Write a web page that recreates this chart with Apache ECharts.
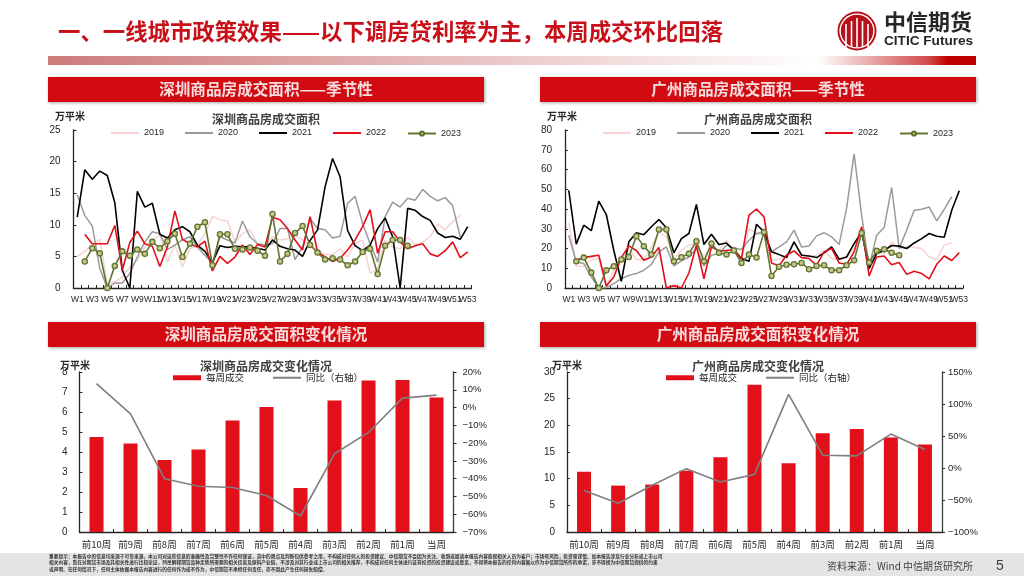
<!DOCTYPE html>
<html><head><meta charset="utf-8">
<style>html,body{margin:0;padding:0;background:#fff}#c{width:1024px;height:576px}</style>
<script src="https://cdn.jsdelivr.net/npm/echarts@6/dist/echarts.min.js"></script>
</head><body><div id="c"></div>
<script>
const weeks = Array.from({length:53},(_,i)=>'W'+(i+1));
const yearNames = ['2019','2020','2021','2022','2023'];
const _ = null;
const sz2019 = [5,5.8,6.8,7.7,0.7,1,1.7,3.3,4.4,6.5,7.6,8.4,4.2,6.8,3.3,6.2,6.8,8.6,11.3,10.8,10.6,7.3,8.6,9.2,7,6.8,8.1,7.6,7.8,8.4,7.6,6.8,6,5.3,5.3,6.2,5,7,7.6,2.3,3.1,7.6,6.5,6.2,8.1,6.8,7.3,8.1,10.1,9.2,10.5,11.5,_];
const sz2020 = [14.7,11.5,9.8,3.1,0,0.8,0.8,2.3,4.9,7.3,8.9,8.6,6.1,6.8,7.6,8.1,6.5,5.2,3.9,8.1,7.6,7.1,10.6,8.1,7,6.8,7,9.4,9.4,4.5,6.5,11,9.4,9.2,7.9,8.2,13.4,14.5,10.2,7,4.1,11.3,13.6,12.8,14.2,13.9,15.6,14.5,13.8,14.3,13,8.1,_];
const sz2021 = [11.2,18.7,17.2,18.5,17.8,13.5,2.8,0,15.3,12.8,13.4,8.5,7.9,9.2,9.7,8.9,6.8,5.8,4,6.7,6.4,6.6,6.5,6.5,6.3,6,7.6,6.6,6.2,6,5,7.5,9.2,16,20.5,17.6,9.1,6.7,5.9,6.8,9.4,11.1,8.1,0,12.6,12.3,11.3,10.7,8.7,8,8.2,7.7,9.7];
const sz2022 = [_,8.5,7,7,7,9.9,2.8,7.2,9,7,6.6,3.4,6.5,12.2,7.7,7,6.5,7.4,2.7,5,3.9,4.9,6.8,5.3,6.9,6.5,11.2,10.8,9.4,7.6,6,11.3,5.7,4.9,4.2,4.7,6,7.6,9.7,12.4,5.5,8.9,8.9,7.3,6.2,6.7,7,5.4,5,5.9,7.3,4.8,5.7];
const sz2023 = [_,4.2,6.3,5.5,0,3.5,5.8,5.1,6.1,5.4,7.3,6.3,7.4,8.6,4.9,7,9.7,10.4,3.6,8.5,8.5,6.2,6.1,6.4,5.9,5.1,11.7,4.2,5.4,8.7,9.8,6.8,5.6,4.5,4.7,4.5,3.6,4.2,5.7,6.2,2.2,6.7,7.6,7.6,6.7];
const gz2019 = [33,11,11,14.4,14.9,0.5,9,14,20,14.4,14.4,20.8,28.4,25.9,14.9,19,21.7,22.5,15.7,20.8,19,24.2,19,14,30,27.6,26.7,14,14.6,16.6,22.5,17.4,15.7,16.6,19,14.9,14.4,15.7,20,29.3,12.4,18.3,17.4,23.4,20,20.8,20.5,20,15.7,14.4,21.7,22.8,_];
const gz2020 = [26.7,13.2,12.4,5.6,0,0.2,2.2,4.7,6.4,7.3,9,12,18.3,20.8,11.2,13.7,15.7,20,11.2,16.6,17.4,21.7,20.3,19.5,24.2,27.6,28.4,18.3,20.8,23.4,29.3,20.8,21.3,26.4,28,25.9,22,40.3,67.9,36.9,10.7,26.7,30.6,51,20,29.3,39.4,39.9,41,34,39.8,46.2,_];
const gz2021 = [49.5,22.2,31.8,29,44,37.2,19,3.4,23.4,28,27,31,34.7,30.5,17.8,25,27.6,42.3,22,27.2,22,22.8,19,14.9,13.5,32.3,28.4,18.3,16.9,15.4,23.4,16.6,16.2,15.4,17.8,20.8,14.6,15.7,22.5,28.4,9.8,17.4,19,21.5,21.2,20,22.8,25,27.6,26.2,25.7,39.4,49.2];
const gz2022 = [_,14,15.4,16,16.6,1,5.6,15.4,21.3,19,14,15.7,20.5,0,1.2,0,7.6,21.7,4.7,20.8,18.8,19,19.5,14.9,36.9,40,36,12.7,11.2,16.6,18.8,15.4,14.9,11.5,18.3,20,12.7,12,18.3,31,6.1,15.7,16.2,11.8,12.9,6.9,8.5,7.3,4.6,12,16.2,13.9,17.9];
const gz2023 = [_,13.5,15.4,7.8,0,9,11,14.4,15.7,26.2,21.2,17,29.6,29.6,13.5,15.6,17.4,23.7,13.5,22.5,17.8,16.9,19,12.7,17,15.4,28.3,6.1,10.8,11.8,12,12.7,9.5,11.2,11.5,9,9,11.5,14,27.9,12.9,18.8,19.6,17.9,16.6];
const recentWeeks = ['前10周','前9周','前8周','前7周','前6周','前5周','前4周','前3周','前2周','前1周','当周'];
const szWeekly = [4.75,4.42,3.6,4.12,5.57,6.25,2.2,6.57,7.57,7.6,6.72];
const szYoy = [13.5,-3.5,-40,-44.3,-45,-49.5,-61,-26,-14,5.3,7];
const gzWeekly = [11.3,8.7,8.9,11.5,14,27.6,12.9,18.5,19.3,17.7,16.4];
const gzYoy = [-35,-55,-27,-1,-22,-10,115,20,19,53,29];
const pageTitle = '一、一线城市政策效果——以下调房贷利率为主，本周成交环比回落';
const disclaimer = [
'重要提示：本报告中的信息均来源于可靠来源，本公司对这些信息的准确性及完整性不作任何保证，其中的观点及判断仅供参考之用，不构成对任何人的投资建议。中信期货不会因为关注、收到或阅读本报告内容而视相关人员为客户；市场有风险，投资需谨慎。如本报告涉及行业分析或上市公司',
'相关内容，旨在对期货市场及其相关性进行比较论证，列举解释期货品种走势所需要的相关信息及原料产业链，不涉及对其行业或上市公司的相关推荐，不构成对任何主体进行证券投资的投资建议或意见，不得将本报告的任何内容据以作为中信期货所作的承诺，亦不得视为中信期货提供的约束',
'或声明。在任何情况下，任何主体依据本报告内容进行的任何作为或不作为，中信期货不承担任何责任，亦不因此产生任何损失赔偿。'];

const FONT = '"Noto Sans CJK SC","Liberation Sans",sans-serif';
const LATIN = '"Liberation Sans","Noto Sans CJK SC",sans-serif';
const RED = '#d20a11', DK='#262626', TXT='#262626';
const yearColors = ['#f7d3d3','#9a9a9a','#000000','#e20f1a','#5f7530'];

const grids = [
 {left:73.5,width:398,top:130,height:158},
 {left:565,width:398,top:130,height:158},
 {left:79.5,width:374,top:372,height:160},
 {left:567,width:375,top:372,height:160}];

const series=[], xAxis=[], yAxis=[], legend=[], title=[];
const lineAxis = {lineStyle:{color:DK,width:1.3}};
function seasonal(i,data,max,step,lx){
  xAxis.push({type:'category',gridIndex:i,data:weeks,boundaryGap:true,position:'bottom',axisLine:lineAxis,
    axisTick:{show:true,inside:true,length:3,alignWithLabel:false,interval:0,lineStyle:{color:DK}},
    axisLabel:{interval:idx=>idx%2===0,fontSize:8.5,color:TXT,margin:7,fontFamily:LATIN,hideOverlap:false}});
  const xa=xAxis.length-1;
  // second label-only axis on the same scale so the last tick label W53 survives ECharts' overlap trimming
  xAxis.push({type:'category',gridIndex:i,data:weeks,boundaryGap:true,position:'bottom',
    axisLine:{show:false,onZero:false},axisTick:{show:false},
    axisLabel:{interval:idx=>idx===52,fontSize:8.5,color:TXT,margin:7,fontFamily:LATIN,showMinLabel:false,showMaxLabel:true}});
  yAxis.push({type:'value',gridIndex:i,min:0,max,interval:step,splitLine:{show:false},axisLine:{show:true,...lineAxis},
    axisTick:{show:true,inside:true,length:3,lineStyle:{color:DK}},
    axisLabel:{fontSize:10,color:TXT,margin:13,fontFamily:LATIN}});
  const ya=yAxis.length-1;
  data.forEach((d,k)=>{
    const is23=k===4;
    series.push({type:'line',name:yearNames[k],xAxisIndex:xa,yAxisIndex:ya,data:d,
      connectNulls:false,smooth:false,z:k+2,
      symbol:is23?'circle':'none',symbolSize:5.2,showSymbol:is23,showAllSymbol:is23,
      lineStyle:{color:yearColors[k],width:k<2?1.5:1.6},
      itemStyle:{color:is23?'#c9c68a':yearColors[k],borderColor:is23?yearColors[4]:yearColors[k],borderWidth:is23?1.3:0}});
  });
  yearNames.forEach((n,k)=>{
    const is23=k===4;
    legend.push({show:true,data:[is23?{name:n}:{name:n,icon:'rect'}],left:lx+k*74,top:is23?124:123.5,itemWidth:28,itemHeight:is23?5.2:2,itemGap:3,
      textStyle:{fontSize:9,color:TXT,fontFamily:LATIN},selectedMode:false,padding:[5,5,5,5]});
  });
}
function recent(i,bars,yoy,lmax,lstep,rmin,rmax,rstep,lx,rm){
  xAxis.push({type:'category',gridIndex:i,data:recentWeeks,axisLine:lineAxis,
    axisTick:{show:true,inside:true,length:3,lineStyle:{color:DK}},
    axisLabel:{interval:0,fontSize:9.5,color:TXT,margin:8,fontFamily:FONT}});
  const xa=xAxis.length-1;
  yAxis.push({type:'value',gridIndex:i,min:0,max:lmax,interval:lstep,splitLine:{show:false},axisLine:{show:true,...lineAxis},
    axisTick:{show:true,inside:true,length:3,lineStyle:{color:DK}},
    axisLabel:{fontSize:10,color:TXT,margin:12,fontFamily:LATIN}});
  const la=yAxis.length-1;
  yAxis.push({type:'value',gridIndex:i,position:'right',min:rmin,max:rmax,interval:rstep,splitLine:{show:false},axisLine:{show:true,lineStyle:{color:'#404040',width:1.3}},
    axisTick:{show:true,inside:false,length:3,lineStyle:{color:DK}},
    axisLabel:{fontSize:9.5,color:TXT,margin:rm,fontFamily:LATIN,formatter:v=>String(v).replace('-','−')+'%'}});
  const ra=yAxis.length-1;
  series.push({type:'bar',name:'每周成交',xAxisIndex:xa,yAxisIndex:la,data:bars,barWidth:14,itemStyle:{color:'#e2101a'},z:2});
  series.push({type:'line',name:'同比（右轴）',xAxisIndex:xa,yAxisIndex:ra,data:yoy,symbol:'none',lineStyle:{color:'#7f7f7f',width:1.6},itemStyle:{color:'#7f7f7f'},z:3});
  ['每周成交','同比（右轴）'].forEach((n,k)=>{
    legend.push({show:true,data:[{name:n,icon:'rect'}],left:lx+k*100,top:368,itemWidth:28,itemHeight:k?2:5,itemGap:3,
      textStyle:{fontSize:9.5,color:TXT,fontFamily:FONT},selectedMode:false});
  });
}
seasonal(0,[sz2019,sz2020,sz2021,sz2022,sz2023],25,5,106);
seasonal(1,[gz2019,gz2020,gz2021,gz2022,gz2023],80,10,598);
recent(2,szWeekly,szYoy,8,1,-70,20,10,168,9);
recent(3,gzWeekly,gzYoy,30,5,-100,150,50,661,6);

[['深圳商品房成交面积',261,108],['广州商品房成交面积',753,108],['深圳商品房成交变化情况',261,355],['广州商品房成交变化情况',753,355]].forEach(t=>{
  title.push({text:t[0],left:t[1],top:t[2],textAlign:'center',textStyle:{fontSize:12,fontWeight:'bold',color:'#404040',fontFamily:FONT}});
});

function head(text,x,y){
  return [
   {type:'rect',shape:{x:x,y:y,width:436,height:25},style:{fill:RED,shadowBlur:3,shadowColor:'rgba(0,0,0,.35)',shadowOffsetY:1,shadowOffsetX:1},z:10},
   {type:'text',x:x+218,y:y+12.5,z:11,style:{text,fontSize:15.6,fontWeight:'bold',fill:'#f6dcdc',align:'center',verticalAlign:'middle',fontFamily:FONT}}
  ];
}
const T=(text,x,y,size,color,weight,align,font)=>({type:'text',x,y,z:11,style:{text,fontSize:size,fill:color,fontWeight:weight||'normal',align:align||'left',verticalAlign:'middle',fontFamily:font||FONT}});
const grad=(x,w,stops)=>({type:'rect',shape:{x,y:56,width:w,height:9},z:5,style:{fill:new echarts.graphic.LinearGradient(0,0,1,0,stops)}});
const logoRed='#b5121b';
const logoBars=[-11,-5.5,0,5.5,11].map(dx=>({type:'rect',shape:{x:857+dx-0.8,y:31-13+Math.abs(dx)*0.55,width:1.6,height:29-Math.abs(dx)*0.55},z:13,style:{fill:'#ffffff'}}));
const graphic=[
 T(pageTitle,58,31,22.4,'#c8101a','bold'),
 grad(48,770,[{offset:0,color:'#cd7b7b'},{offset:1,color:'#ffffff'}]),
 grad(818,158,[{offset:0,color:'#ffffff'},{offset:.7,color:'#d04a4a'},{offset:.82,color:'#c00000'},{offset:1,color:'#c00000'}]),
 ...head('深圳商品房成交面积——季节性',48,77),
 ...head('广州商品房成交面积——季节性',540,77),
 ...head('深圳商品房成交面积变化情况',48,322),
 ...head('广州商品房成交面积变化情况',540,322),
 T('万平米',55,116,10,TXT,'bold'),
 T('万平米',547,116,10,TXT,'bold'),
 T('万平米',60,365,10,TXT,'bold'),
 T('万平米',552,365,10,TXT,'bold'),
 {type:'rect',shape:{x:0,y:553,width:1024,height:23},z:1,style:{fill:'#e4e4e4'}},
 ...disclaimer.map((s,i)=>T(s,49,556+i*6.4,4.74,'#333333','bold')),
 T('资料来源：Wind 中信期货研究所',827,566,10,'#404040'),
 T('5',1000,566,14,'#404040','normal','center',LATIN),
 {type:'circle',shape:{cx:857,cy:31,r:19.5},z:11,style:{fill:logoRed}},
 {type:'circle',shape:{cx:857,cy:31,r:17.6},z:11,style:{fill:'#ffffff'}},
 {type:'circle',shape:{cx:857,cy:31,r:16.2},z:12,style:{fill:logoRed}},
 ...logoBars,
 T('中信期货',884,22,22,'#262626','bold','left'),
 T('CITIC Futures',884,41,13.6,'#262626','bold','left',LATIN)
];
const chart=echarts.init(document.getElementById('c'),null,{renderer:'canvas'});
chart.setOption({animation:false,backgroundColor:'#fff',grid:grids,xAxis,yAxis,series,legend,title,graphic});
</script></body></html>
